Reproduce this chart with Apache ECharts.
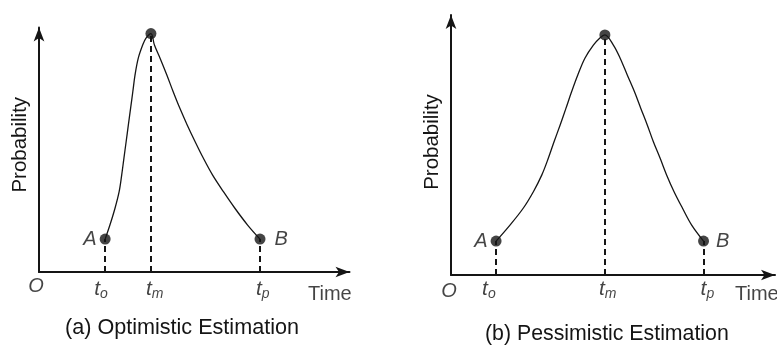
<!DOCTYPE html>
<html><head><meta charset="utf-8">
<script src="https://cdn.jsdelivr.net/npm/echarts@6/dist/echarts.min.js"></script>
<style>html,body{margin:0;padding:0;background:#fff}#c{width:777px;height:347px}</style>
</head><body><div id="c"></div>
<script>
// ---------- data (arbitrary time / probability units) ----------
const optCurve = [[2.08,1.31],[2.23,1.87],[2.39,2.54],[2.52,3.20],[2.60,3.86],[2.67,4.53],[2.74,5.19],[2.81,5.86],[2.88,6.52],[2.95,7.18],[3.02,7.85],[3.12,8.51],[3.26,9.04],[3.36,9.31],[3.52,9.50],[3.63,9.04],[3.81,8.51],[4.02,7.85],[4.22,7.18],[4.43,6.52],[4.66,5.86],[4.91,5.19],[5.17,4.53],[5.46,3.86],[5.80,3.20],[6.16,2.54],[6.56,1.87],[6.95,1.31]];
const optPoints = [[2.08,1.31],[3.52,9.50],[6.95,1.31]];
const pesCurve = [[1.33,1.27],[1.74,1.87],[2.13,2.50],[2.43,3.12],[2.68,3.75],[2.87,4.37],[3.04,4.99],[3.22,5.62],[3.39,6.24],[3.56,6.87],[3.74,7.49],[3.95,8.12],[4.20,8.61],[4.40,8.89],[4.54,8.99],[4.79,8.61],[4.99,8.12],[5.20,7.49],[5.41,6.87],[5.60,6.24],[5.79,5.62],[5.97,4.99],[6.17,4.37],[6.36,3.75],[6.58,3.12],[6.83,2.50],[7.10,1.87],[7.45,1.27]];
const pesPoints = [[1.33,1.27],[4.54,8.99],[7.45,1.27]];
const pointNames = ['A', '', 'B'];
const tickSubs = ['o', 'm', 'p'];
const captions = ['(a) Optimistic Estimation', '(b) Pessimistic Estimation'];
const xName = 'Time';
const yName = 'Probability';
const originName = 'O';

// ---------- layout / style ----------
const INK = '#151515';
const FONT = '"Liberation Sans", Arial, Helvetica, sans-serif';
const panels = [
  { curve: optCurve, points: optPoints,
    grid: { left: 39, top: 27.5, width: 310.5, height: 244.5 }, xMax: 9.764, yMax: 9.741,
    timeOff: [-41.5, 22], yNameGap: 8, yNamePadLeft: 10,
    tickDx: [-11, -5, -4], tickDy: 17.7, originOff: [-3, 14.5], labelDist: [3, 9],
    title: { left: 60, top: 312, size: 21.6 } },
  { curve: pesCurve, points: pesPoints,
    grid: { left: 451, top: 15, width: 324, height: 260 }, xMax: 9.558, yMax: 9.738,
    timeOff: [-40, 19.5], yNameGap: 8, yNamePadLeft: 6,
    tickDx: [-14, -6, -3], tickDy: 14.7, originOff: [-2, 16.5], labelDist: [3, 7],
    title: { left: 480, top: 319, size: 21.3 } }
];

const grids = [], xAxes = [], yAxes = [], series = [], titles = [];
panels.forEach((p, i) => {
  grids.push(Object.assign({ containLabel: false, outerBoundsMode: 'none' }, p.grid));
  titles.push({ text: captions[i], left: p.title.left, top: p.title.top,
    textStyle: { color: INK, fontSize: p.title.size, fontWeight: 'normal', fontFamily: FONT } });
  const axisLine = { show: true, symbol: ['none', 'arrow'], symbolSize: [8, 14],
    lineStyle: { color: INK, width: 2 } };
  xAxes.push({ type: 'value', gridIndex: i, min: 0, max: p.xMax, axisLine,
    axisTick: { show: false }, axisLabel: { show: false }, splitLine: { show: false } });
  yAxes.push({ type: 'value', gridIndex: i, min: 0, max: p.yMax, axisLine,
    axisTick: { show: false }, axisLabel: { show: false }, splitLine: { show: false },
    name: yName, nameLocation: 'middle', nameGap: p.yNameGap,
    nameTextStyle: { color: INK, fontSize: 20.5, fontFamily: FONT, padding: [0, 0, 0, p.yNamePadLeft] } });

  // curve
  series.push({ type: 'line', xAxisIndex: i, yAxisIndex: i, data: p.curve, smooth: 0.35,
    showSymbol: false, symbol: 'none', silent: true,
    lineStyle: { color: INK, width: 1.3 }, z: 2 });

  // points + dashed drop lines
  series.push({ type: 'scatter', xAxisIndex: i, yAxisIndex: i, symbolSize: 11, z: 4,
    itemStyle: { color: INK },
    data: p.points.map((pt, k) => ({ value: pt,
      label: { show: pointNames[k] !== '', formatter: pointNames[k],
        position: k === 0 ? 'left' : 'right', distance: p.labelDist[k === 0 ? 0 : 1],
        color: INK, fontSize: 20, fontStyle: 'italic', fontFamily: FONT } })),
    markLine: { silent: true, symbol: ['none', 'none'], label: { show: false },
      lineStyle: { color: INK, width: 2, type: [6, 4] },
      data: p.points.map(pt => [{ coord: [pt[0], 0] }, { coord: [pt[0], pt[1]] }]) } });

  // tick labels t_o, t_m, t_p
  series.push({ type: 'scatter', xAxisIndex: i, yAxisIndex: i, symbolSize: 1, silent: true, z: 5,
    itemStyle: { color: 'rgba(0,0,0,0)' },
    data: p.points.map((pt, k) => ({ value: [pt[0], 0],
      label: { show: true, position: 'inside', align: 'left', verticalAlign: 'middle',
        offset: [p.tickDx[k], p.tickDy],
        formatter: '{t|t}{s|' + tickSubs[k] + '}',
        rich: {
          t: { fontSize: 21, fontStyle: 'italic', fontFamily: FONT, color: INK, lineHeight: 22, verticalAlign: 'top' },
          s: { fontSize: 14, fontStyle: 'italic', fontFamily: FONT, color: INK, lineHeight: 10, verticalAlign: 'bottom' }
        } } })) });

  // origin label and axis name "Time" (anchored at axis origin / axis end)
  series.push({ type: 'scatter', xAxisIndex: i, yAxisIndex: i, symbolSize: 1, silent: true, z: 5,
    itemStyle: { color: 'rgba(0,0,0,0)' },
    data: [
      { value: [0, 0], label: { show: true, position: 'inside', formatter: originName,
        offset: p.originOff, color: INK, fontSize: 20, fontStyle: 'italic', fontFamily: FONT } },
      { value: [p.xMax, 0], label: { show: true, position: 'inside', align: 'left', formatter: xName,
        offset: p.timeOff, color: INK, fontSize: 20, fontFamily: FONT } }
    ] });
});

const chart = echarts.init(document.getElementById('c'), null, { renderer: 'canvas' });
chart.setOption({ animation: false, backgroundColor: '#fff', title: titles,
  grid: grids, xAxis: xAxes, yAxis: yAxes, series });
</script></body></html>
